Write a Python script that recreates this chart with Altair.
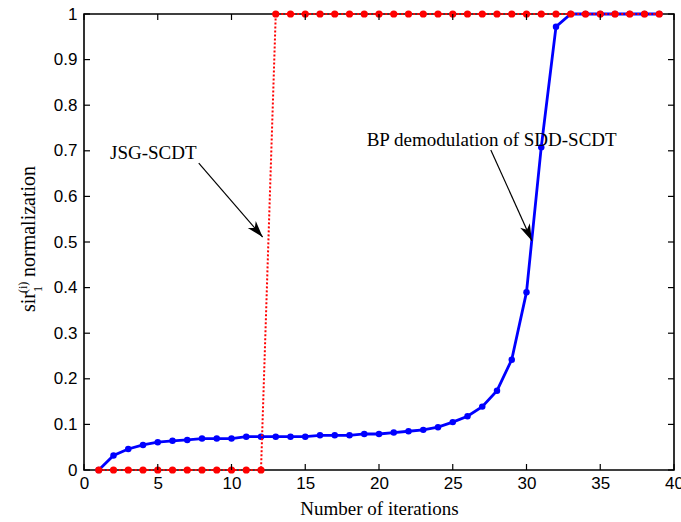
import math
import altair as alt
import pandas as pd

# Normalised SIR of user 1 versus iteration number
iterations = [1, 2, 3, 4, 5, 6, 7, 8, 9, 10, 11, 12, 13, 14, 15, 16, 17, 18, 19, 20,
              21, 22, 23, 24, 25, 26, 27, 28, 29, 30, 31, 32, 33, 34, 35, 36, 37, 38, 39]
bp_sdd_scdt = [0.0, 0.032, 0.046, 0.055, 0.061, 0.064, 0.066, 0.069, 0.069, 0.069,
               0.073, 0.073, 0.073, 0.073, 0.073, 0.076, 0.076, 0.076, 0.079, 0.079,
               0.082, 0.085, 0.088, 0.094, 0.105, 0.118, 0.139, 0.174, 0.242, 0.390,
               0.708, 0.972, 1.0, 1.0, 1.0, 1.0, 1.0, 1.0, 1.0]
jsg_scdt = [0, 0, 0, 0, 0, 0, 0, 0, 0, 0, 0, 0,
            1, 1, 1, 1, 1, 1, 1, 1, 1, 1, 1, 1, 1, 1, 1, 1, 1, 1, 1, 1, 1, 1, 1, 1, 1, 1, 1]

x_ticks = [0, 5, 10, 15, 20, 25, 30, 35, 40]
y_ticks = [0, 0.1, 0.2, 0.3, 0.4, 0.5, 0.6, 0.7, 0.8, 0.9, 1]

# Annotation labels with arrow tail / tip in data coordinates
ann_labels = ["JSG-SCDT", "BP demodulation of SDD-SCDT"]
ann_text_x = [4.70, 27.64]
ann_text_y = [0.695, 0.724]
ann_tail_x = [7.78, 27.58]
ann_tail_y = [0.673, 0.702]
ann_tip_x = [12.11, 30.36]
ann_tip_y = [0.511, 0.503]

W, H = 590, 456
X_DOMAIN, Y_DOMAIN = [0, 40], [0, 1]
SERIF = "Liberation Serif"
SANS = "Liberation Sans"

df = pd.DataFrame({"iter": iterations, "bp": bp_sdd_scdt, "jsg": jsg_scdt})

# arrowhead rotation from the on-screen direction of each arrow
px_x = W / (X_DOMAIN[1] - X_DOMAIN[0])
px_y = H / (Y_DOMAIN[1] - Y_DOMAIN[0])
angles = []
for tx, ty, hx, hy in zip(ann_tail_x, ann_tail_y, ann_tip_x, ann_tip_y):
    dx = (hx - tx) * px_x
    dy = -(hy - ty) * px_y
    angles.append(math.degrees(math.atan2(dx, -dy)) % 360)

ann = pd.DataFrame({
    "label": ann_labels, "tx": ann_text_x, "ty": ann_text_y,
    "x0": ann_tail_x, "y0": ann_tail_y, "x1": ann_tip_x, "y1": ann_tip_y,
    "angle": angles,
})

xs = alt.Scale(domain=X_DOMAIN, nice=False, zero=False)
ys = alt.Scale(domain=Y_DOMAIN, nice=False, zero=False)

x_axis = alt.Axis(values=x_ticks, ticks=False, domain=False, grid=False,
                  labelFont=SANS, labelFontSize=17, labelPadding=5,
                  labelColor="black", title="Number of iterations",
                  titleFont=SERIF, titleFontSize=19, titleFontWeight="normal",
                  titleColor="black", titlePadding=8, labelFlush=False)
y_axis = alt.Axis(values=y_ticks, ticks=False, domain=False, grid=False,
                  labelFont=SANS, labelFontSize=17, labelPadding=7,
                  labelColor="black", title=None,
                  labelExpr="datum.value == 0 || datum.value == 1 ? format(datum.value, 'd') : format(datum.value, '.1f')")

base = alt.Chart(df)

blue_line = base.mark_line(color="#0000FF", strokeWidth=2.8).encode(
    x=alt.X("iter:Q", scale=xs, axis=x_axis),
    y=alt.Y("bp:Q", scale=ys, axis=y_axis),
)
blue_pts = base.mark_point(shape="circle", filled=True, opacity=1, color="#0000FF", size=42).encode(
    x=alt.X("iter:Q", scale=xs), y=alt.Y("bp:Q", scale=ys))

red_line = base.mark_line(color="#FF0000", strokeWidth=2, strokeDash=[2, 2]).encode(
    x=alt.X("iter:Q", scale=xs), y=alt.Y("jsg:Q", scale=ys))
red_pts = base.mark_point(shape="circle", filled=True, opacity=1, color="#FF0000", size=52).encode(
    x=alt.X("iter:Q", scale=xs), y=alt.Y("jsg:Q", scale=ys))

a = alt.Chart(ann)
ann_text = a.mark_text(font=SERIF, fontSize=19, color="black",
                       align="center", baseline="middle").encode(
    x=alt.X("tx:Q", scale=xs), y=alt.Y("ty:Q", scale=ys), text="label:N")
ann_shaft = a.mark_rule(color="black", strokeWidth=1.2).encode(
    x=alt.X("x0:Q", scale=xs), y=alt.Y("y0:Q", scale=ys), x2="x1:Q", y2="y1:Q")
ann_head = a.mark_point(shape="M0,0 L-0.32,1 L0,0.72 L0.32,1 Z", filled=True, opacity=1,
                        color="black", size=1100).encode(
    x=alt.X("x1:Q", scale=xs), y=alt.Y("y1:Q", scale=ys), angle=alt.Angle("angle:Q", scale=None))

# inward ticks on all four sides of the box
xt = alt.Chart(pd.DataFrame({"v": x_ticks}))
yt = alt.Chart(pd.DataFrame({"v": y_ticks}))
tick_b = xt.mark_rule(color="black", strokeWidth=1.2).encode(
    x=alt.X("v:Q", scale=xs), y=alt.value(H), y2=alt.value(H - 6))
tick_t = xt.mark_rule(color="black", strokeWidth=1.2).encode(
    x=alt.X("v:Q", scale=xs), y=alt.value(0), y2=alt.value(6))
tick_l = yt.mark_rule(color="black", strokeWidth=1.2).encode(
    y=alt.Y("v:Q", scale=ys), x=alt.value(0), x2=alt.value(6))
tick_r = yt.mark_rule(color="black", strokeWidth=1.2).encode(
    y=alt.Y("v:Q", scale=ys), x=alt.value(W), x2=alt.value(W - 6))

# y title: sir with stacked subscript 1 and superscript (i), then "normalization"
def ytitle_part(txt, x, y, size):
    return alt.Chart(pd.DataFrame({"t": [txt]})).mark_text(
        font=SERIF, fontSize=size, color="black", angle=270,
        align="left", baseline="alphabetic").encode(
        text="t:N", x=alt.value(x), y=alt.value(y))

yt_sir = ytitle_part("sir", -49, 298, 20)
yt_sub = ytitle_part("1", -42, 278, 12)
yt_sup = ytitle_part("(i)", -57, 279, 12)
yt_rest = ytitle_part("normalization", -49, 263, 20)

chart = alt.layer(
    blue_line, blue_pts, red_line, red_pts,
    ann_shaft, ann_head, ann_text,
    tick_b, tick_t, tick_l, tick_r,
    yt_sir, yt_sub, yt_sup, yt_rest,
).properties(
    width=W, height=H,
    autosize=alt.AutoSizeParams(type="none"),
    padding={"left": 84, "top": 14, "right": 7, "bottom": 52},
    background="white",
).configure_view(stroke="black", strokeWidth=1.6)

chart.save("out.html", embed_options={"renderer": "svg", "actions": False})
